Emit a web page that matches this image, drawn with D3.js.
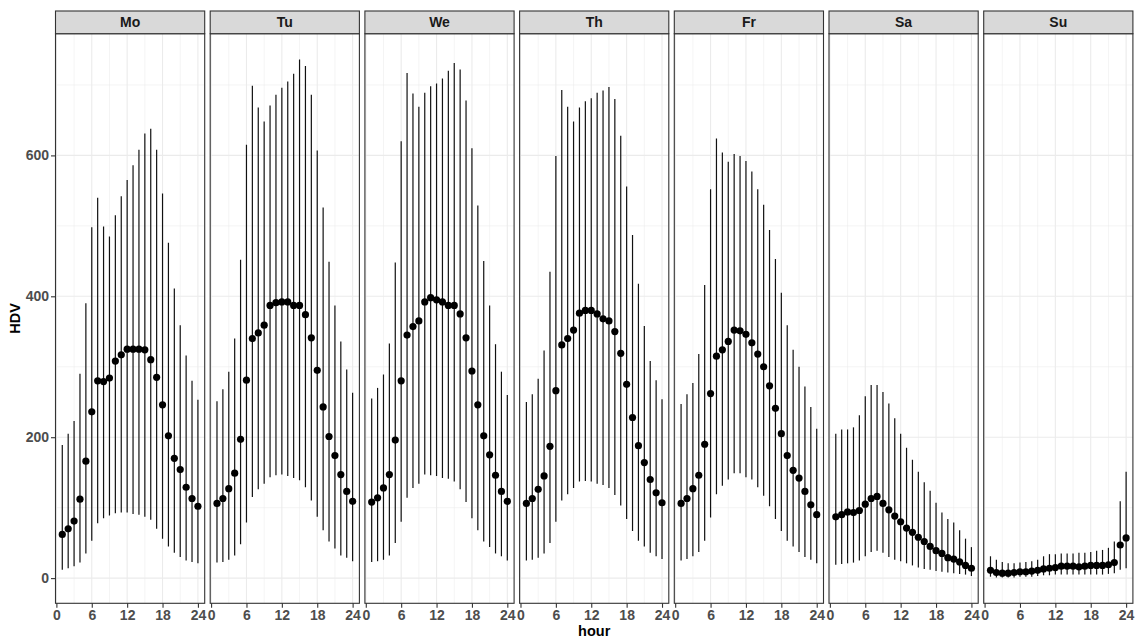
<!DOCTYPE html>
<html>
<head>
<meta charset="utf-8">
<script src="https://cdn.jsdelivr.net/npm/d3@7"></script>
<style>
  body { margin: 0; background: #fff; }
  svg { display: block; font-family: "Liberation Sans", Arial, sans-serif; }
</style>
</head>
<body>
<svg id="chart" width="1136" height="639"></svg>
<script>
// --- data ---
const days  = ["Mo", "Tu", "We", "Th", "Fr", "Sa", "Su"];
const hours = [1, 2, 3, 4, 5, 6, 7, 8, 9, 10, 11, 12, 13, 14, 15, 16, 17, 18, 19, 20, 21, 22, 23, 24];
const xTicks = [0, 6, 12, 18, 24];
const yTicks = [0, 200, 400, 600];

const moMean = [62, 70, 81, 112, 166, 236, 280, 279, 284, 308, 317, 325, 325, 325, 324, 310, 285, 246, 202, 170, 154, 129, 113, 102];
const moHigh = [189, 205, 223, 290, 390, 498, 540, 499, 485, 515, 542, 565, 586, 608, 631, 638, 608, 546, 476, 411, 359, 316, 280, 253];
const moLow  = [12, 14, 17, 22, 35, 53, 78, 85, 89, 92, 93, 93, 91, 90, 87, 83, 70, 56, 45, 36, 30, 25, 23, 21];

const tuMean = [106, 113, 127, 149, 197, 281, 340, 348, 359, 387, 391, 392, 392, 387, 387, 374, 341, 295, 243, 201, 174, 147, 123, 109];
const tuHigh = [251, 268, 293, 340, 452, 615, 699, 668, 648, 671, 686, 696, 705, 716, 736, 727, 686, 607, 526, 449, 387, 336, 296, 263];
const tuLow  = [22, 23, 26, 32, 48, 79, 115, 126, 134, 143, 146, 147, 145, 142, 139, 129, 110, 87, 68, 52, 42, 32, 29, 24];

const weMean = [108, 114, 128, 147, 196, 280, 345, 357, 365, 392, 398, 395, 392, 387, 387, 375, 341, 294, 246, 202, 175, 146, 123, 109];
const weHigh = [255, 270, 289, 333, 448, 620, 717, 688, 669, 689, 698, 702, 709, 720, 731, 722, 678, 610, 529, 450, 387, 332, 293, 260];
const weLow  = [23, 24, 26, 32, 50, 80, 114, 128, 134, 147, 146, 145, 142, 141, 137, 126, 108, 85, 68, 52, 44, 35, 31, 25];

const thMean = [106, 113, 126, 145, 187, 266, 331, 340, 352, 376, 380, 380, 375, 368, 365, 350, 319, 275, 228, 188, 164, 140, 121, 107];
const thHigh = [250, 261, 283, 323, 435, 599, 693, 669, 648, 668, 677, 681, 689, 692, 697, 680, 628, 556, 487, 418, 358, 308, 281, 254];
const thLow  = [25, 26, 29, 35, 50, 80, 110, 119, 128, 137, 138, 137, 134, 132, 128, 118, 103, 84, 67, 53, 45, 36, 31, 27];

const frMean = [106, 113, 127, 146, 190, 262, 315, 324, 336, 352, 351, 346, 334, 318, 300, 273, 241, 205, 174, 153, 142, 123, 104, 90];
const frHigh = [247, 261, 277, 318, 416, 552, 624, 604, 591, 602, 599, 592, 577, 552, 530, 494, 453, 405, 359, 324, 300, 272, 243, 212];
const frLow  = [25, 27, 31, 37, 53, 86, 119, 131, 140, 149, 149, 143, 140, 129, 117, 102, 84, 67, 53, 45, 37, 30, 26, 21];

const saMean = [87, 90, 94, 93, 96, 105, 113, 116, 106, 97, 88, 80, 71, 65, 58, 52, 45, 39, 35, 29, 27, 23, 18, 14];
const saHigh = [205, 211, 211, 214, 231, 258, 274, 274, 264, 248, 227, 205, 185, 168, 151, 136, 124, 107, 93, 84, 79, 68, 56, 44];
const saLow  = [19, 20, 21, 22, 25, 31, 37, 39, 36, 30, 26, 24, 21, 18, 15, 13, 12, 10, 9, 8, 7, 6, 5, 3];

const suMean = [11, 8, 7, 7, 8, 9, 9, 10, 11, 13, 14, 15, 17, 17, 17, 16, 17, 18, 18, 18, 19, 22, 47, 57];
const suHigh = [31, 26, 23, 21, 21, 22, 23, 24, 26, 31, 34, 34, 35, 35, 35, 36, 36, 37, 39, 40, 43, 52, 109, 151];
const suLow  = [2, 1, 1, 1, 1, 2, 2, 2, 3, 4, 4, 5, 5, 5, 5, 5, 5, 5, 5, 5, 6, 7, 12, 14];

const means = [moMean, tuMean, weMean, thMean, frMean, saMean, suMean];
const highs = [moHigh, tuHigh, weHigh, thHigh, frHigh, saHigh, suHigh];
const lows  = [moLow, tuLow, weLow, thLow, frLow, saLow, suLow];

// --- layout ---
const svg = d3.select("#chart");
const left = 55.5, panelW = 149.2, gap = 5.5;
const stripTop = 11, panelTop = 33.7, panelBottom = 603.3;

// ggplot-style 5% expansion
const hMin = d3.min(hours), hMax = d3.max(hours);
const hPad = (hMax - hMin) * 0.05;
const allVals = highs.flat().concat(lows.flat());
const vMin = d3.min(allVals), vMax = d3.max(allVals);
const vPad = (vMax - vMin) * 0.05;

const y = d3.scaleLinear()
  .domain([vMin - vPad, vMax + vPad])
  .range([panelBottom, panelTop]);

const gridColor = "#EBEBEB";
const frameColor = "#333333";

days.forEach((day, i) => {
  const x0 = left + i * (panelW + gap);
  const x = d3.scaleLinear()
    .domain([hMin - hPad, hMax + hPad])
    .range([x0, x0 + panelW]);

  const g = svg.append("g").attr("class", "panel");

  // minor grid
  const xMinor = xTicks.slice(0, -1).map(t => t + 3);
  const yMinor = yTicks.map(t => t + 100);
  g.selectAll("line.xminor").data(xMinor).join("line")
    .attr("x1", d => x(d)).attr("x2", d => x(d))
    .attr("y1", panelTop).attr("y2", panelBottom)
    .attr("stroke", gridColor).attr("stroke-width", 0.55);
  g.selectAll("line.yminor").data(yMinor).join("line")
    .attr("x1", x0).attr("x2", x0 + panelW)
    .attr("y1", d => y(d)).attr("y2", d => y(d))
    .attr("stroke", gridColor).attr("stroke-width", 0.55);

  // major grid
  g.selectAll("line.xmajor").data(xTicks).join("line")
    .attr("x1", d => x(d)).attr("x2", d => x(d))
    .attr("y1", panelTop).attr("y2", panelBottom)
    .attr("stroke", gridColor).attr("stroke-width", 1.1);
  g.selectAll("line.ymajor").data(yTicks).join("line")
    .attr("x1", x0).attr("x2", x0 + panelW)
    .attr("y1", d => y(d)).attr("y2", d => y(d))
    .attr("stroke", gridColor).attr("stroke-width", 1.1);

  const rows = hours.map((h, k) => ({ h, mean: means[i][k], lo: lows[i][k], hi: highs[i][k] }));

  // error bars
  g.selectAll("line.range").data(rows).join("line")
    .attr("class", "range")
    .attr("x1", d => x(d.h)).attr("x2", d => x(d.h))
    .attr("y1", d => y(d.lo)).attr("y2", d => y(d.hi))
    .attr("stroke", "#111").attr("stroke-width", 1.2);

  // points
  g.selectAll("circle").data(rows).join("circle")
    .attr("cx", d => x(d.h)).attr("cy", d => y(d.mean))
    .attr("r", 3.6).attr("fill", "#000");

  // panel border
  g.append("rect")
    .attr("x", x0).attr("y", panelTop)
    .attr("width", panelW).attr("height", panelBottom - panelTop)
    .attr("fill", "none").attr("stroke", frameColor).attr("stroke-width", 1.1);

  // strip
  g.append("rect")
    .attr("x", x0).attr("y", stripTop)
    .attr("width", panelW).attr("height", panelTop - stripTop)
    .attr("fill", "#D9D9D9").attr("stroke", frameColor).attr("stroke-width", 1.1);
  g.append("text")
    .attr("x", x0 + panelW / 2).attr("y", (stripTop + panelTop) / 2)
    .attr("dy", "0.36em")
    .attr("text-anchor", "middle")
    .attr("font-size", 14).attr("font-weight", "bold").attr("fill", "#1A1A1A")
    .text(day);

  // x axis
  const gx = svg.append("g")
    .attr("transform", `translate(0,${panelBottom})`)
    .call(d3.axisBottom(x).tickValues(xTicks).tickSize(4.5).tickPadding(2));
  gx.select(".domain").remove();
  gx.selectAll(".tick line").attr("stroke", frameColor).attr("stroke-width", 1.1);
  gx.selectAll(".tick text")
    .attr("font-size", 14).attr("font-weight", "bold").attr("fill", "#4D4D4D")
    .attr("font-family", "Liberation Sans, Arial, sans-serif");

  if (i === 0) {
    const gy = svg.append("g")
      .attr("transform", `translate(${x0},0)`)
      .call(d3.axisLeft(y).tickValues(yTicks).tickSize(4.5).tickPadding(2));
    gy.select(".domain").remove();
    gy.selectAll(".tick line").attr("stroke", frameColor).attr("stroke-width", 1.1);
    gy.selectAll(".tick text")
      .attr("font-size", 14).attr("font-weight", "bold").attr("fill", "#4D4D4D")
      .attr("font-family", "Liberation Sans, Arial, sans-serif");
  }
});

// axis titles
const plotRight = left + days.length * panelW + (days.length - 1) * gap;
svg.append("text")
  .attr("x", (left + plotRight) / 2).attr("y", 636)
  .attr("text-anchor", "middle")
  .attr("font-size", 14.5).attr("font-weight", "bold").attr("fill", "#000")
  .text("hour");

svg.append("text")
  .attr("transform", `translate(20,${(panelTop + panelBottom) / 2}) rotate(-90)`)
  .attr("text-anchor", "middle")
  .attr("font-size", 14.5).attr("font-weight", "bold").attr("fill", "#000")
  .text("HDV");
</script>
</body>
</html>
